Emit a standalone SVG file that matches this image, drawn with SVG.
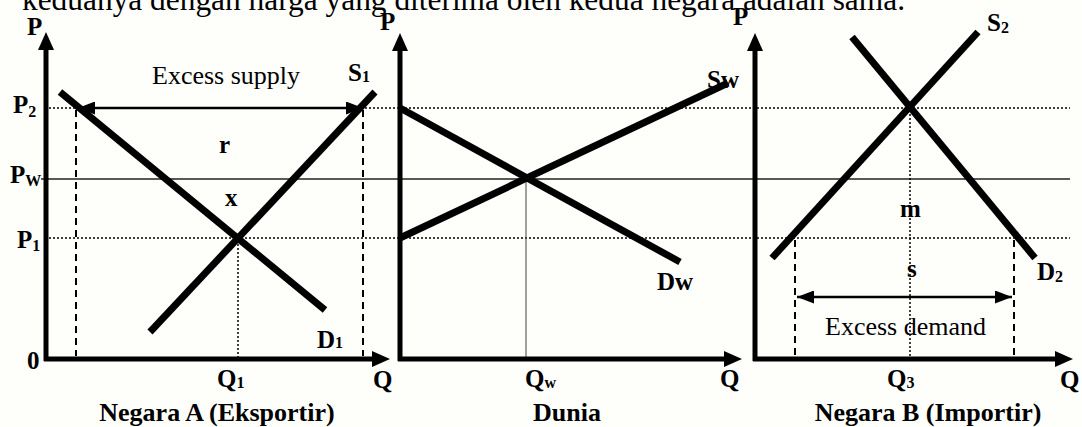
<svg xmlns="http://www.w3.org/2000/svg" width="1082" height="427" viewBox="0 0 1082 427">
<defs>
<marker id="ax" markerUnits="userSpaceOnUse" markerWidth="18" markerHeight="16" refX="3" refY="8" orient="auto" viewBox="0 0 18 16"><path d="M0,0 L18,8 L0,16 z" fill="#000"/></marker>
<marker id="dbl" markerUnits="userSpaceOnUse" markerWidth="17" markerHeight="13" refX="17" refY="6.5" orient="auto-start-reverse" viewBox="0 0 17 13"><path d="M0,0 L17,6.5 L0,13 z" fill="#000"/></marker>
</defs>
<style>
.axis{stroke:#000;stroke-width:5;fill:none;marker-end:url(#ax)}
.curve{stroke:#000;stroke-width:7;fill:none}
.dot{stroke:#000;stroke-width:1.5;stroke-dasharray:2 2;fill:none}
.dash{stroke:#000;stroke-width:2;stroke-dasharray:7 5;fill:none}
.thin{stroke:#222;stroke-width:1.5;fill:none}
.hair{stroke:#444;stroke-width:1;fill:none}
.exc{stroke:#000;stroke-width:2.5;fill:none;marker-start:url(#dbl);marker-end:url(#dbl)}
.lb{font-family:"Liberation Serif","Times New Roman",serif;font-weight:bold;font-size:25px;fill:#000}
.cap{font-family:"Liberation Serif","Times New Roman",serif;font-weight:bold;font-size:26px;fill:#000}
.rg{font-family:"Liberation Serif","Times New Roman",serif;font-size:26px;fill:#000}
.sub{font-size:16px}
</style>
<rect width="1082" height="427" fill="#fefefb"/>
<text class="rg" x="22" y="10" font-size="31" style="font-size:31px" textLength="883" lengthAdjust="spacingAndGlyphs">keduanya dengan harga yang diterima oleh kedua negara adalah sama.</text>

<g id="guides">
<line class="dot" x1="49" y1="108" x2="1070" y2="108"/>
<line class="thin" x1="41" y1="179" x2="1070" y2="179"/>
<line class="dot" x1="49" y1="238" x2="1070" y2="238"/>
</g>

<g id="panel-a">
<line class="dash" x1="76" y1="110" x2="76" y2="356"/>
<line class="dash" x1="363" y1="110" x2="363" y2="356"/>
<line class="dot" x1="238" y1="240" x2="238" y2="357"/>
<line class="curve" x1="60" y1="92" x2="325" y2="310"/>
<line class="curve" x1="150" y1="332" x2="375" y2="92"/>
<line class="exc" x1="78" y1="108" x2="363" y2="108"/>
<line class="axis" x1="46" y1="361" x2="46" y2="47"/>
<line class="axis" x1="44" y1="359" x2="375" y2="359"/>
<text class="lb" x="27" y="35">P</text>
<text class="lb" x="13" y="113">P<tspan class="sub" dy="4">2</tspan></text>
<text class="lb" x="10" y="183">P<tspan class="sub" dy="3">W</tspan></text>
<text class="lb" x="17" y="248">P<tspan class="sub" dy="3">1</tspan></text>
<text class="lb" x="27" y="369">0</text>
<text class="lb" x="217" y="387">Q<tspan class="sub" dy="1">1</tspan></text>
<text class="lb" x="373" y="388">Q</text>
<text class="lb" x="219" y="153">r</text>
<text class="lb" x="225" y="206">x</text>
<text class="lb" x="348" y="81">S<tspan class="sub" dy="1">1</tspan></text>
<text class="lb" x="317" y="348">D<tspan class="sub" dy="0">1</tspan></text>
<text class="rg" x="152" y="84">Excess supply</text>
<text class="cap" x="217" y="421" text-anchor="middle">Negara A (Eksportir)</text>
</g>

<g id="panel-world">
<line class="hair" x1="526" y1="179" x2="526" y2="357"/>
<line class="curve" x1="400" y1="238" x2="728" y2="83"/>
<line class="curve" x1="400" y1="108" x2="680" y2="262"/>
<line class="axis" x1="400" y1="361" x2="400" y2="48"/>
<line class="axis" x1="398" y1="359" x2="727" y2="359"/>
<text class="lb" x="380" y="30">P</text>
<text class="lb" x="707" y="88">Sw</text>
<text class="lb" x="657" y="290">Dw</text>
<text class="lb" x="525" y="387">Q<tspan class="sub" dy="1">w</tspan></text>
<text class="lb" x="720" y="387">Q</text>
<text class="cap" x="567" y="421" text-anchor="middle">Dunia</text>
</g>

<g id="panel-b">
<line class="dot" x1="910" y1="110" x2="910" y2="357"/>
<line class="dash" x1="795" y1="240" x2="795" y2="356"/>
<line class="dash" x1="1014" y1="240" x2="1014" y2="356"/>
<line class="curve" x1="772" y1="258" x2="978" y2="32"/>
<line class="curve" x1="852" y1="37" x2="1035" y2="258"/>
<line class="exc" x1="797" y1="297" x2="1012" y2="297"/>
<line class="axis" x1="755" y1="361" x2="755" y2="48"/>
<line class="axis" x1="753" y1="359" x2="1058" y2="359"/>
<text class="lb" x="733" y="25">P</text>
<text class="lb" x="987" y="31">S<tspan class="sub" dy="2">2</tspan></text>
<text class="lb" x="1037" y="280">D<tspan class="sub" dy="2">2</tspan></text>
<text class="lb" x="900" y="217">m</text>
<text class="lb" x="907" y="277">s</text>
<text class="lb" x="887" y="387">Q<tspan class="sub" dy="1">3</tspan></text>
<text class="lb" x="1060" y="388">Q</text>
<text class="rg" x="825" y="335">Excess demand</text>
<text class="cap" x="928" y="421" text-anchor="middle">Negara B (Importir)</text>
</g>
</svg>
